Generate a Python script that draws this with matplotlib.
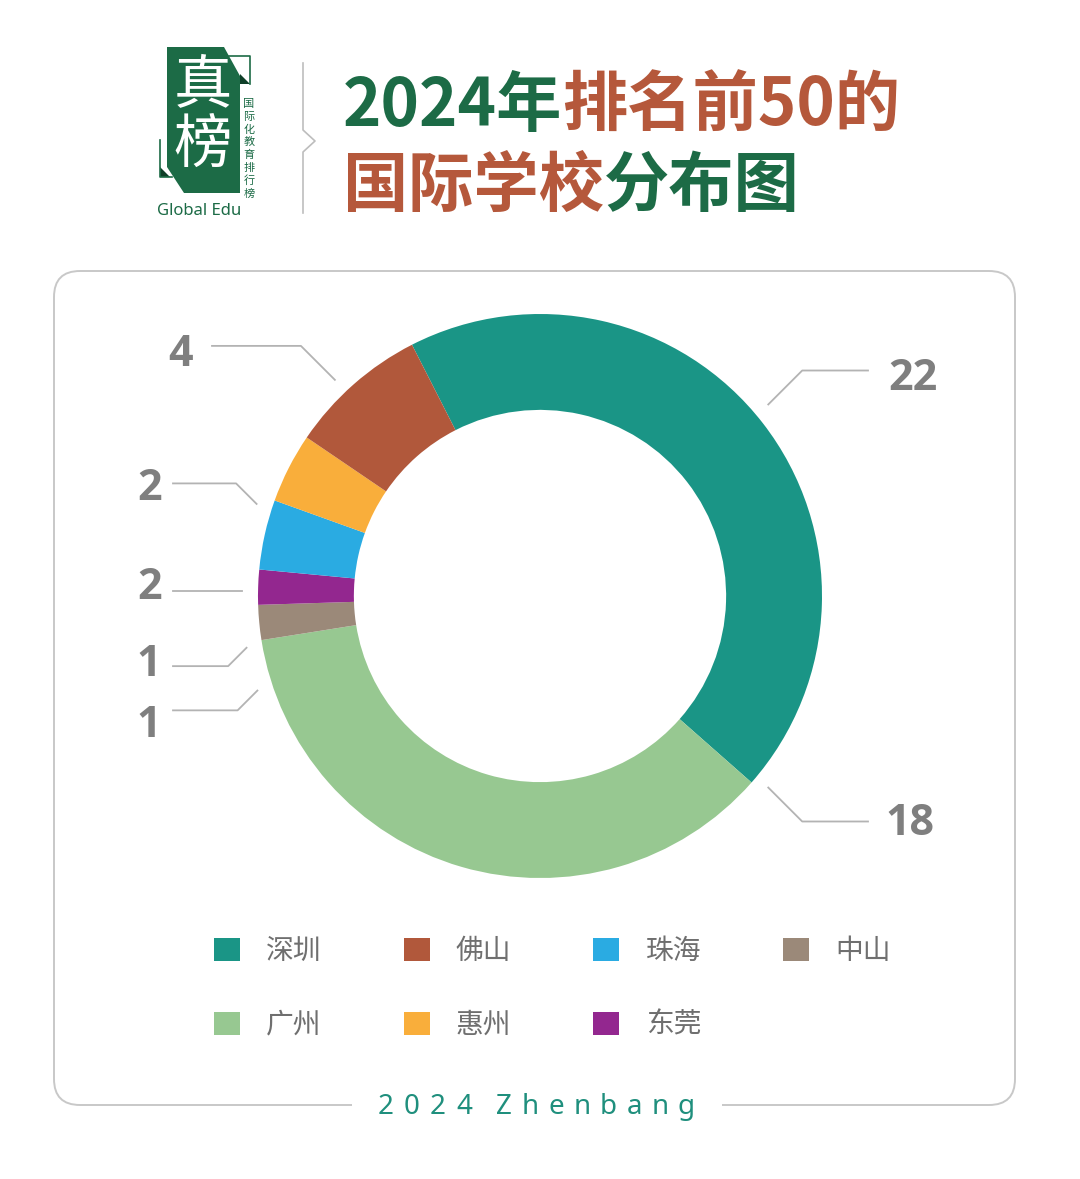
import matplotlib
matplotlib.use('Agg')
import matplotlib.pyplot as plt
from matplotlib.patches import Patch, Polygon, FancyBboxPatch, Rectangle
from matplotlib.font_manager import FontProperties
import numpy as np

# ---- data -------------------------------------------------------------
cities = ['深圳', '广州', '中山', '东莞', '珠海', '惠州', '佛山']
counts = [22, 18, 1, 1, 2, 2, 4]
colors = ['#1a9586', '#97c891', '#9b8979', '#93278f', '#2aabe2', '#f9ae3b', '#b1583b']
legend_order = ['深圳', '广州', '佛山', '惠州', '珠海', '东莞', '中山']

title_line1 = [('2024年', 'green'), ('排名前50的', 'rust')]
title_line2 = [('国际学校', 'rust'), ('分布图', 'green')]
footer = '2024 Zhenbang'

# ---- layout (pixels) --------------------------------------------------
W, H = 1080, 1179
CX, CY, R = 540, 596, 282
# label leader: anchor angle (deg), 45deg diagonal length, end of horizontal line,
# text x, text dy
label_angle = [40, -40, 198.5, 190, 179, 162, 133.5]
label_diag = [48, 48, 28, 26, 0, 29, 48]
label_end_x = [868, 868, 173, 173, 173, 173, 212]
label_text_x = [888, 885, 161, 161, 162, 162, 193]
label_dy = [8, 2, 15, -2, -3, 5, 9]

GREEN = '#1c6b46'
RUST = '#b5583b'
CJK = ['Noto Sans CJK SC', 'DejaVu Sans']
plt.rcParams['font.family'] = CJK

fig = plt.figure(figsize=(W / 100, H / 100), dpi=100)
bg = fig.add_axes([0, 0, 1, 1])
bg.set_xlim(0, W)
bg.set_ylim(H, 0)
bg.axis('off')

# card
card = FancyBboxPatch((54, 271), 961, 834, boxstyle='round,pad=0,rounding_size=26',
                      fc='white', ec='#c8c8c8', lw=1.4)
bg.add_patch(card)

# ---- logo -------------------------------------------------------------
bg.add_patch(Polygon([(167, 47), (224, 47), (240, 76), (240, 193), (184, 193), (167, 167)],
                     closed=True, fc=GREEN, ec='none'))
bg.plot([229, 250, 250], [56, 56, 84], color=GREEN, lw=1.2)
bg.add_patch(Polygon([(240, 74), (250, 84), (240, 84)], closed=True, fc='#0f3f28', ec='none'))
bg.plot([160, 160, 172], [140, 177, 177], color=GREEN, lw=1.2)
bg.add_patch(Polygon([(160, 167), (170, 177), (160, 177)], closed=True, fc='#0f3f28', ec='none'))
bg.text(203, 86, '真', color='white', fontsize=42, ha='center', va='center', fontweight='light')
bg.text(203, 146, '榜', color='white', fontsize=42, ha='center', va='center', fontweight='light')
for i, ch in enumerate('国际化教育排行榜'):
    bg.text(249, 104 + i * 12.8, ch, color=GREEN, fontsize=8, ha='center', va='center')
bg.text(199, 211, 'Global Edu', color=GREEN, fontsize=12, ha='center', va='center',
        family=['Noto Sans', 'DejaVu Sans'])
bg.plot([303, 303, 315, 303, 303], [63, 130, 141, 152, 213], color='#bdbdbd', lw=1.2)

# ---- title ------------------------------------------------------------
renderer = fig.canvas.get_renderer()
cmap = {'green': GREEN, 'rust': RUST}
for parts, base in [(title_line1, 126), (title_line2, 206)]:
    x = 343
    for txt, c in parts:
        t = bg.text(x, base, txt, color=cmap[c], fontsize=47, fontweight='bold',
                    ha='left', va='baseline')
        x += t.get_window_extent(renderer).width

# ---- donut ------------------------------------------------------------
pax = fig.add_axes([(CX - R) / W, 1 - (CY + R) / H, 2 * R / W, 2 * R / H])
pax.pie(counts, colors=colors, startangle=117, counterclock=False, radius=1,
        wedgeprops=dict(width=0.34, linewidth=0))
pax.set_xlim(-1, 1)
pax.set_ylim(-1, 1)
pax.set_aspect('equal')
pax.axis('off')

# leader lines + value labels
for n, a, d, ex, tx, dy in zip(counts, label_angle, label_diag, label_end_x,
                               label_text_x, label_dy):
    rad = np.deg2rad(a)
    sx = CX + (R + 16) * np.cos(rad)
    sy = CY - (R + 16) * np.sin(rad)
    sgx = 1 if np.cos(rad) > 0 else -1
    sgy = -1 if np.sin(rad) > 0 else 1
    k = d / np.sqrt(2)
    exb, eyb = sx + sgx * k, sy + sgy * k
    bg.plot([sx, exb, ex], [sy, eyb, eyb], color='#b3b3b3', lw=1.3)
    bg.text(tx, eyb + dy, str(n), ha='left' if sgx > 0 else 'right', va='center',
            fontsize=31, color='#7f7f7f', fontweight='bold',
            family=['Open Sans', 'DejaVu Sans'])

# ---- legend (column-major, 2 rows) ------------------------------------
handles = [Patch(fc=colors[cities.index(c)], ec='none') for c in legend_order]
fig.legend(handles, legend_order, ncol=4, loc='upper left',
           bbox_to_anchor=(214 / W, 1 - 936 / H), frameon=False,
           prop=FontProperties(family='Noto Sans CJK SC', size=20),
           labelcolor='#6f6f6f', handlelength=0.93, handleheight=0.93,
           handletextpad=0.95, columnspacing=2.95, labelspacing=1.58,
           borderpad=0, borderaxespad=0)

# ---- footer -----------------------------------------------------------
bg.add_patch(Rectangle((352, 1094), 370, 24, fc='white', ec='none', zorder=3))
x = 386
for ch in footer:
    if ch == ' ':
        x += 14
        continue
    bg.text(x, 1107, ch, color='#1f8f7d', fontsize=20, ha='center',
            va='center', fontweight='medium', family=['Noto Sans', 'DejaVu Sans'], zorder=4)
    x += 26

fig.savefig('out.png', dpi=100, facecolor='white')
